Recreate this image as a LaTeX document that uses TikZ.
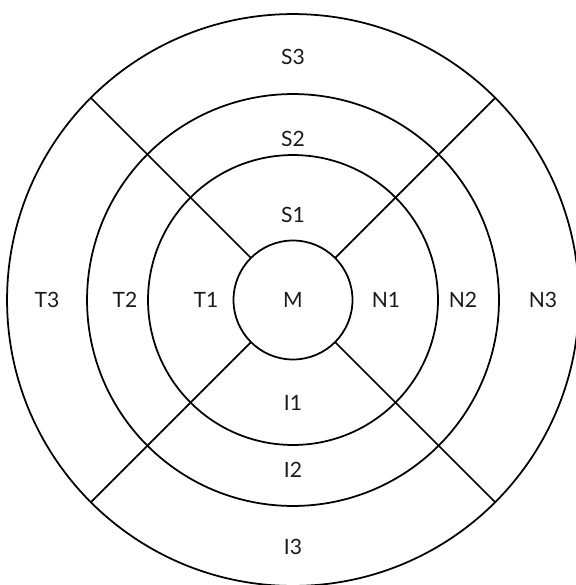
\documentclass[tikz,border=0pt]{standalone}
\usepackage{fontspec}
\setmainfont{Lato}
\usepackage{tikz}
\usetikzlibrary{positioning}

\definecolor{ringLine}{HTML}{000000}
\definecolor{ringText}{HTML}{1A1A1A}

\begin{document}
\begin{tikzpicture}[
  x=0.02cm, y=-0.02cm,
  font=\fontsize{12}{14}\selectfont,
  ring/.style={
    circle,
    draw=ringLine,
    line width=1pt,
    inner sep=0pt,
    outer sep=0pt
  },
  spoke/.style={draw=ringLine, line width=1pt},
  lab/.style={text=ringText, inner sep=1pt}
]

\useasboundingbox (0,0) rectangle (575,585);

\coordinate (o) at (293,300);

% rings, inside out
\node[ring, minimum size=2.38cm] (c1) at (o) {};
\node[ring, minimum size=5.8cm] (c2) at (o) {};
\node[ring, minimum size=8.24cm] (c3) at (o) {};
\node[ring, minimum size=11.44cm] (c4) at (o) {};

% diagonal cuts
\foreach \a in {45,135,225,315}
  \draw[spoke] (c1.\a) -- (c4.\a);

% labels
\node[lab] (m) at (o) {M};
\node[lab] (s1) at (293,215) {S1};
\node[lab] (s2) at (293,139) {S2};
\node[lab] (s3) at (293,57) {S3};
\node[lab] (i1) at (293,403) {I1};
\node[lab] (i2) at (293,470) {I2};
\node[lab] (i3) at (293,547) {I3};
\node[lab] (t1) at (206,300) {T1};
\node[lab] (t2) at (125,300) {T2};
\node[lab] (t3) at (47,300) {T3};
\node[lab] (n1) at (386,300) {N1};
\node[lab] (n2) at (463,300) {N2};
\node[lab] (n3) at (543,300) {N3};

\end{tikzpicture}
\end{document}
